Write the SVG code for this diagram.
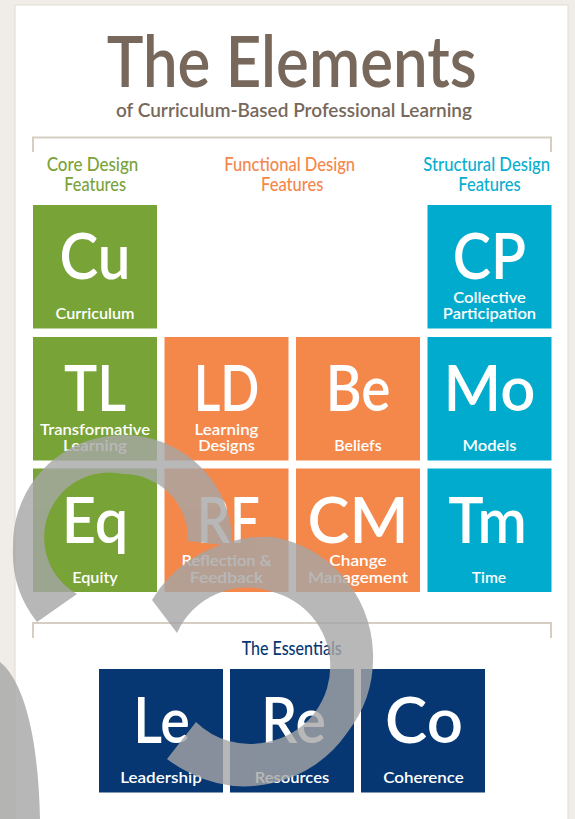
<svg xmlns="http://www.w3.org/2000/svg" width="575" height="819" viewBox="0 0 575 819">
<style>
text{font-family:Lato,"Noto Sans","Liberation Sans",sans-serif;font-weight:600}
.sym{font-size:64px;fill:#fff;text-anchor:middle}
.lbl{font-size:15px;fill:#fff;text-anchor:middle}
.hd{font-size:18.7px;text-anchor:middle;font-weight:500}
.g{fill:#78a336}.o{fill:#f4874a}.b{fill:#00abcd}.n{fill:#063772}
.br{fill:none;stroke:#d6cec3;stroke-width:2}
</style>
<rect width="575" height="819" fill="#f0ede8"/>
<rect x="15" y="5" width="553" height="830" fill="#fff" stroke="#e2dcd3" stroke-width="1"/>
<g id="title">
<text x="291.7" y="86.7" font-size="72" fill="#77685b" text-anchor="middle" textLength="370" lengthAdjust="spacingAndGlyphs">The Elements</text>
<text x="294" y="116.7" font-size="20" fill="#77685b" text-anchor="middle" font-weight="500" textLength="356" lengthAdjust="spacingAndGlyphs">of Curriculum-Based Professional Learning</text>
</g>
<g id="brackets">
<path class="br" d="M33,152V137.5H551V152"/>
<path class="br" d="M33,638V623H551V638"/>
</g>
<g id="headers">
<text class="hd" x="92.5" y="170.7" fill="#7aa33a" textLength="91.6" lengthAdjust="spacingAndGlyphs">Core Design</text>
<text class="hd" x="95.2" y="190.7" fill="#7aa33a" textLength="61.7" lengthAdjust="spacingAndGlyphs">Features</text>
<text class="hd" x="289.7" y="170.7" fill="#f4874b" textLength="130.7" lengthAdjust="spacingAndGlyphs">Functional Design</text>
<text class="hd" x="292.2" y="190.7" fill="#f4874b" textLength="62.3" lengthAdjust="spacingAndGlyphs">Features</text>
<text class="hd" x="486.7" y="170.7" fill="#09aed0" textLength="126.7" lengthAdjust="spacingAndGlyphs">Structural Design</text>
<text class="hd" x="489.5" y="190.7" fill="#09aed0" textLength="62.4" lengthAdjust="spacingAndGlyphs">Features</text>
<text class="hd" x="291.7" y="655" fill="#063772" font-size="20" textLength="100" lengthAdjust="spacingAndGlyphs">The Essentials</text>
</g>
<g id="cu"><rect class="g" x="33" y="205" width="124" height="123.5"/><text class="sym" x="95" y="279" textLength="71" lengthAdjust="spacingAndGlyphs">Cu</text><text class="lbl" x="95" y="319" textLength="79" lengthAdjust="spacingAndGlyphs">Curriculum</text></g>
<g id="cp"><rect class="b" x="427.5" y="205" width="124" height="123.5"/><text class="sym" x="489.5" y="279" textLength="73.4" lengthAdjust="spacingAndGlyphs">CP</text><text class="lbl" x="489.5" y="302.5" textLength="72.7" lengthAdjust="spacingAndGlyphs">Collective</text><text class="lbl" x="489.5" y="319" textLength="93.3" lengthAdjust="spacingAndGlyphs">Participation</text></g>
<g id="tl"><rect class="g" x="33" y="337" width="124" height="123.5"/><text class="sym" x="95" y="411" textLength="62" lengthAdjust="spacingAndGlyphs">TL</text><text class="lbl" x="95" y="434.5" textLength="110" lengthAdjust="spacingAndGlyphs">Transformative</text><text class="lbl" x="95" y="451" textLength="64" lengthAdjust="spacingAndGlyphs">Learning</text></g>
<g id="ld"><rect class="o" x="164.5" y="337" width="124" height="123.5"/><text class="sym" x="226.5" y="411" textLength="65.7" lengthAdjust="spacingAndGlyphs">LD</text><text class="lbl" x="226.5" y="434.5" textLength="64" lengthAdjust="spacingAndGlyphs">Learning</text><text class="lbl" x="226.5" y="451" textLength="56.7" lengthAdjust="spacingAndGlyphs">Designs</text></g>
<g id="be"><rect class="o" x="296" y="337" width="124" height="123.5"/><text class="sym" x="358" y="411" textLength="64.7" lengthAdjust="spacingAndGlyphs">Be</text><text class="lbl" x="358" y="451" textLength="47.4" lengthAdjust="spacingAndGlyphs">Beliefs</text></g>
<g id="mo"><rect class="b" x="427.5" y="337" width="124" height="123.5"/><text class="sym" x="489.5" y="411" textLength="92" lengthAdjust="spacingAndGlyphs">Mo</text><text class="lbl" x="489.5" y="451" textLength="54" lengthAdjust="spacingAndGlyphs">Models</text></g>
<g id="eq"><rect class="g" x="33" y="468.5" width="124" height="123.5"/><text class="sym" x="95" y="542.5" textLength="66.6" lengthAdjust="spacingAndGlyphs">Eq</text><text class="lbl" x="95" y="582.5" textLength="45.6" lengthAdjust="spacingAndGlyphs">Equity</text></g>
<g id="rf"><rect class="o" x="164.5" y="468.5" width="124" height="123.5"/><text class="sym" x="228.3" y="542.5" textLength="63.3" lengthAdjust="spacingAndGlyphs">RF</text><text class="lbl" x="226.5" y="566" textLength="90" lengthAdjust="spacingAndGlyphs">Reflection &amp;</text><text class="lbl" x="226.5" y="582.5" textLength="73.3" lengthAdjust="spacingAndGlyphs">Feedback</text></g>
<g id="cm"><rect class="o" x="296" y="468.5" width="124" height="123.5"/><text class="sym" x="358" y="542.5" textLength="101" lengthAdjust="spacingAndGlyphs">CM</text><text class="lbl" x="358" y="566" textLength="57.4" lengthAdjust="spacingAndGlyphs">Change</text><text class="lbl" x="358" y="582.5" textLength="100" lengthAdjust="spacingAndGlyphs">Management</text></g>
<g id="tm"><rect class="b" x="427.5" y="468.5" width="124" height="123.5"/><text class="sym" x="487.5" y="542.5" textLength="78.4" lengthAdjust="spacingAndGlyphs">Tm</text><text class="lbl" x="489" y="582.5" textLength="34.3" lengthAdjust="spacingAndGlyphs">Time</text></g>
<g id="le"><rect class="n" x="99" y="669" width="124" height="123.5"/><text class="sym" x="161.5" y="743" textLength="56.7" lengthAdjust="spacingAndGlyphs">Le</text><text class="lbl" x="161" y="783" textLength="81.7" lengthAdjust="spacingAndGlyphs">Leadership</text></g>
<g id="re"><rect class="n" x="230" y="669" width="124" height="123.5"/><text class="sym" x="293.5" y="743" textLength="65" lengthAdjust="spacingAndGlyphs">Re</text><text class="lbl" x="292" y="783" textLength="74.3" lengthAdjust="spacingAndGlyphs">Resources</text></g>
<g id="co"><rect class="n" x="361" y="669" width="124" height="123.5"/><text class="sym" x="424" y="743" textLength="77.8" lengthAdjust="spacingAndGlyphs">Co</text><text class="lbl" x="423.5" y="783" textLength="80.7" lengthAdjust="spacingAndGlyphs">Coherence</text></g>
<g id="overlay" fill="#a6a6a6" opacity="0.8">
<path d="M77,594L37,622A112,112 0 0 1 13,547A110,110 0 0 1 222,497A110,110 0 0 1 232,546L188,541A65,65 0 0 0 123,474A65,65 0 0 0 77,594Z"/>
<path d="M177,633L152,600A122,122 0 0 1 187,562A122,122 0 0 1 227,543A122,122 0 0 1 273,537A122,122 0 0 1 340,573A122,122 0 0 1 373,653A122,122 0 0 1 347,733A122,122 0 0 1 273,783A122,122 0 0 1 190,773A122,122 0 0 1 167,759L196,722A77,77 0 0 0 267,742A77,77 0 0 0 330,660A77,77 0 0 0 273,592A77,77 0 0 0 177,633Z"/>
<path d="M0,662C22,680 38,730 40,819L0,819Z"/>
</g>
</svg>
